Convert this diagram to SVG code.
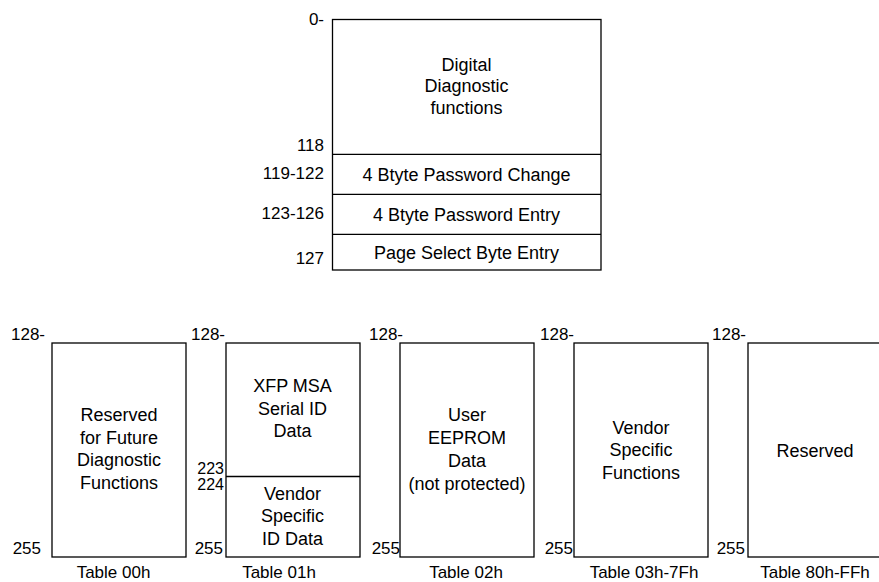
<svg xmlns="http://www.w3.org/2000/svg" width="879" height="582" viewBox="0 0 879 582">
  <style>
    .box { fill: #fff; stroke: #000; stroke-width: 1.3; }
    .div { stroke: #000; stroke-width: 1.3; }
    .t { font-family: "Liberation Sans", Arial, sans-serif; font-size: 18px; fill: #000; text-anchor: middle; }
    .addr { font-family: "Liberation Sans", Arial, sans-serif; font-size: 17px; fill: #000; text-anchor: end; }
    .tight { font-size: 16px; }
    .cap { font-family: "Liberation Sans", Arial, sans-serif; font-size: 17px; fill: #000; text-anchor: middle; }
  </style>
  <rect width="879" height="582" fill="#fff"/>

  <!-- Lower memory map, bytes 0-127 -->
  <g id="lower-map">
    <rect class="box" x="332.5" y="19.5" width="268.5" height="250.5"/>
    <g id="dd-functions">
      <text class="t" x="466.5" y="70.5">Digital</text>
      <text class="t" x="466.5" y="92">Diagnostic</text>
      <text class="t" x="466.5" y="113.5">functions</text>
    </g>
    <g id="pwd-change">
      <line class="div" x1="332.5" y1="154.3" x2="601" y2="154.3"/>
      <text class="t" x="466.5" y="180.5">4 Btyte Password Change</text>
    </g>
    <g id="pwd-entry">
      <line class="div" x1="332.5" y1="194.3" x2="601" y2="194.3"/>
      <text class="t" x="466.5" y="220.5">4 Btyte Password Entry</text>
    </g>
    <g id="page-select">
      <line class="div" x1="332.5" y1="234.3" x2="601" y2="234.3"/>
      <text class="t" x="466.5" y="258.5">Page Select Byte Entry</text>
    </g>
    <g id="lower-addr">
      <text class="addr" x="324" y="25">0-</text>
      <text class="addr" x="324" y="150.5">118</text>
      <text class="addr" x="324" y="178.5">119-122</text>
      <text class="addr" x="324" y="218.5">123-126</text>
      <text class="addr" x="324" y="263.5">127</text>
    </g>
  </g>

  <!-- Upper pages, bytes 128-255 -->
  <g id="table-00h">
    <rect class="box" x="52" y="343" width="134" height="214"/>
    <text class="t" x="119" y="421">Reserved</text>
    <text class="t" x="119" y="443.5">for Future</text>
    <text class="t" x="119" y="466">Diagnostic</text>
    <text class="t" x="119" y="488.5">Functions</text>
    <text class="addr" x="45" y="340">128-</text>
    <text class="addr" x="41" y="553.5">255</text>
    <text class="cap" x="113.5" y="578">Table 00h</text>
  </g>

  <g id="table-01h">
    <rect class="box" x="226" y="343" width="134" height="214"/>
    <line class="div" x1="226" y1="476.5" x2="360" y2="476.5"/>
    <text class="t" x="292.5" y="392">XFP MSA</text>
    <text class="t" x="292.5" y="414.5">Serial ID</text>
    <text class="t" x="292.5" y="437">Data</text>
    <text class="t" x="292.5" y="500">Vendor</text>
    <text class="t" x="292.5" y="522">Specific</text>
    <text class="t" x="292.5" y="544.5">ID Data</text>
    <text class="addr" x="225" y="340">128-</text>
    <text class="addr tight" x="224" y="473.5">223</text>
    <text class="addr tight" x="224" y="489.5">224</text>
    <text class="addr" x="223" y="553.5">255</text>
    <text class="cap" x="279" y="578">Table 01h</text>
  </g>

  <g id="table-02h">
    <rect class="box" x="400" y="343" width="134" height="214"/>
    <text class="t" x="467" y="420.5">User</text>
    <text class="t" x="467" y="443.5">EEPROM</text>
    <text class="t" x="467" y="466.5">Data</text>
    <text class="t" x="467" y="489.5">(not protected)</text>
    <text class="addr" x="403" y="340">128-</text>
    <text class="addr" x="400" y="553.5">255</text>
    <text class="cap" x="466" y="578">Table 02h</text>
  </g>

  <g id="table-03h-7fh">
    <rect class="box" x="574" y="343" width="134" height="214"/>
    <text class="t" x="641" y="433.5">Vendor</text>
    <text class="t" x="641" y="456">Specific</text>
    <text class="t" x="641" y="478.5">Functions</text>
    <text class="addr" x="574" y="340">128-</text>
    <text class="addr" x="573" y="553.5">255</text>
    <text class="cap" x="644" y="578">Table 03h-7Fh</text>
  </g>

  <g id="table-80h-ffh">
    <rect class="box" x="748" y="343" width="134" height="214"/>
    <text class="t" x="815" y="456.5">Reserved</text>
    <text class="addr" x="746" y="340">128-</text>
    <text class="addr" x="745" y="553.5">255</text>
    <text class="cap" x="815" y="578">Table 80h-FFh</text>
  </g>
</svg>
